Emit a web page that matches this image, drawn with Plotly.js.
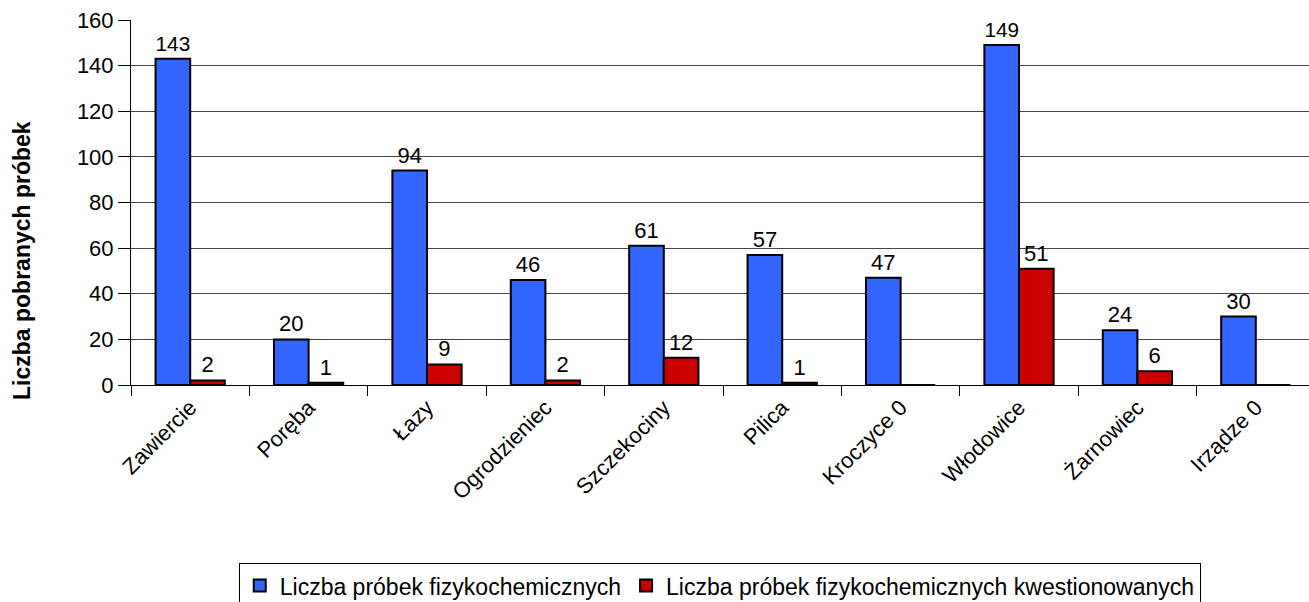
<!DOCTYPE html>
<html>
<head>
<meta charset="utf-8">
<script src="https://cdn.plot.ly/plotly-3.0.1.min.js"></script>
<style>
html,body{margin:0;padding:0;overflow:hidden;background:#fff;}
#chart{width:1315px;height:602px;}
</style>
</head>
<body>
<div id="chart"></div>
<script>
const categories = ["Zawiercie","Poręba","Łazy","Ogrodzieniec","Szczekociny","Pilica","Kroczyce","Włodowice","Żarnowiec","Irządze"];
const tickLabels = ["Zawiercie","Poręba","Łazy","Ogrodzieniec","Szczekociny","Pilica","Kroczyce 0","Włodowice","Żarnowiec","Irządze 0"];
const seriesNames = ["Liczba próbek fizykochemicznych","Liczba próbek fizykochemicznych kwestionowanych"];
const physChem = [143,20,94,46,61,57,47,149,24,30];
const questioned = [2,1,9,2,12,1,0,51,6,0];
const yTicks = [0,20,40,60,80,100,120,140,160];
const yTitle = "Liczba pobranych próbek";

const font = "Liberation Sans, Arial, sans-serif";
const labelText = arr => arr.map(v => v === 0 ? "" : String(v));

const traces = [
  {
    type: "bar", name: seriesNames[0], x: categories, y: physChem,
    text: labelText(physChem), textposition: "outside", cliponaxis: false,
    textfont: {family: font, size: 22, color: "#000"},
    marker: {color: "#3366FF", line: {color: "#000", width: 2}}
  },
  {
    type: "bar", name: seriesNames[1], x: categories, y: questioned,
    text: labelText(questioned), textposition: "outside", cliponaxis: false,
    textfont: {family: font, size: 22, color: "#000"},
    marker: {color: "#CC0000", line: {color: "#000", width: 2}}
  }
];

const layout = {
  width: 1315, height: 602,
  margin: {l: 131, r: 0, t: 20, b: 217, autoexpand: false},
  paper_bgcolor: "#fff", plot_bgcolor: "#fff",
  font: {family: font, size: 22, color: "#000"},
  barmode: "group", bargap: 0.415, bargroupgap: 0,
  showlegend: true,
  legend: {
    orientation: "h", x: 0.091, y: -0.488, xanchor: "left", yanchor: "top",
    bordercolor: "#000", borderwidth: 1, font: {family: font, size: 23},
    itemwidth: 30, tracegroupgap: 0
  },
  xaxis: {
    type: "category", tickvals: categories, ticktext: tickLabels,
    tickangle: -45, ticks: "outside", tickson: "boundaries", ticklen: 10,
    tickcolor: "#000", showline: true, linecolor: "#000", linewidth: 1,
    showgrid: false, tickfont: {family: font, size: 22}, automargin: false
  },
  yaxis: {
    range: [0, 160], tickvals: yTicks, ticks: "outside", ticklen: 12,
    tickcolor: "#000", showline: true, linecolor: "#000", linewidth: 1,
    showgrid: true, gridcolor: "#444", gridwidth: 1, zeroline: false,
    tickfont: {family: font, size: 22}, automargin: false
  },
  annotations: [{
    text: "<b>" + yTitle + "</b>", xref: "paper", yref: "paper",
    x: -0.092, y: 0.34, xanchor: "center", yanchor: "middle",
    textangle: -90, showarrow: false, font: {family: font, size: 23, color: "#000"}
  }]
};

Plotly.newPlot("chart", traces, layout, {displayModeBar: false, staticPlot: true});
</script>
</body>
</html>
